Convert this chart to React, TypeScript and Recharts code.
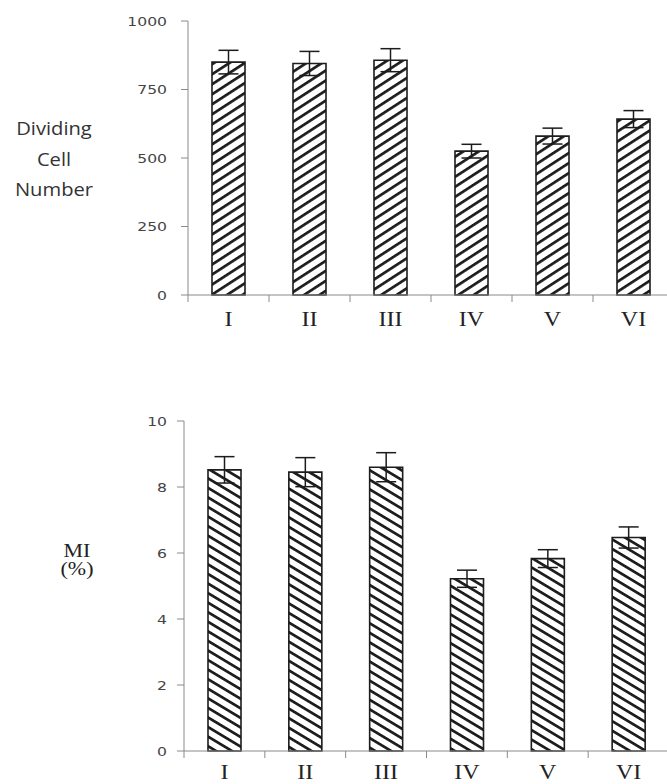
import React from 'react';
import { BarChart, Bar, XAxis, YAxis, ErrorBar } from 'recharts';

const groups = ['I', 'II', 'III', 'IV', 'V', 'VI'];
const cellNumber = [850, 845, 857, 525, 580, 642];
const cellNumberErr = [43, 44, 42, 25, 29, 31];
const miPercent = [8.52, 8.45, 8.6, 5.22, 5.83, 6.47];
const miErr = [0.4, 0.44, 0.44, 0.26, 0.27, 0.32];
const cellTicks = [0, 250, 500, 750, 1000];
const miTicks = [0, 2, 4, 6, 8, 10];

const topData = groups.map((g, i) => ({ group: g, value: cellNumber[i], err: cellNumberErr[i] }));
const bottomData = groups.map((g, i) => ({ group: g, value: miPercent[i], err: miErr[i] }));

const AXIS_GRAY = '#8a8a8a';
const INK = '#1c1c1c';

const CHART_W = 680;
const TOP_LEFT = 188;
const TOP_RIGHT_MARGIN = 6;
const BOT_LEFT = 184;
const BOT_RIGHT_MARGIN = 11;

function makeXTick(band: number, labelOffset: number) {
  return (props: any) => {
    const { x, y, payload } = props;
    const half = band / 2;
    return (
      <g>
        <line x1={x - half} x2={x - half} y1={y} y2={y + 7} stroke={AXIS_GRAY} strokeWidth={1} />
        <text
          transform={`translate(${x},${y + labelOffset}) scale(1.2,1)`}
          textAnchor="middle"
          dy="0.35em"
          fontFamily="'Liberation Serif', 'Times New Roman', serif"
          fontSize={20}
          fill="#222"
        >
          {payload.value}
        </text>
      </g>
    );
  };
}

const YTick = (props: any) => {
  const { x, y, payload } = props;
  return (
    <text
      transform={`translate(${x},${y}) scale(1.2,1)`}
      textAnchor="end"
      dy="0.36em"
      fontFamily="'DejaVu Sans', sans-serif"
      fontSize={13}
      fill="#444"
    >
      {payload.value}
    </text>
  );
};

const topBand = (CHART_W - TOP_RIGHT_MARGIN - TOP_LEFT) / groups.length;
const botBand = (CHART_W - BOT_RIGHT_MARGIN - BOT_LEFT) / groups.length;
const TopXTick = makeXTick(topBand, 24);
const BotXTick = makeXTick(botBand, 21);

export default function App() {
  return (
    <div
      style={{
        position: 'absolute',
        left: 0,
        top: 0,
        width: 667,
        height: 784,
        overflow: 'hidden',
        background: '#fff',
      }}
    >
      <svg width={0} height={0} style={{ position: 'absolute' }}>
        <defs>
          <pattern id="hatchUp" patternUnits="userSpaceOnUse" width="10" height="8.4" patternTransform="rotate(-33)">
            <rect x="0" y="0" width="10" height="2.7" fill={INK} />
          </pattern>
          <pattern id="hatchDown" patternUnits="userSpaceOnUse" width="10" height="8.2" patternTransform="rotate(31)">
            <rect x="0" y="0" width="10" height="2.7" fill={INK} />
          </pattern>
        </defs>
      </svg>

      <div style={{ position: 'absolute', left: 0, top: 0 }}>
        <BarChart
          width={CHART_W}
          height={340}
          data={topData}
          margin={{ top: 21, right: TOP_RIGHT_MARGIN, bottom: 15, left: 0 }}
        >
          <XAxis
            dataKey="group"
            height={30}
            interval={0}
            axisLine={{ stroke: AXIS_GRAY, strokeWidth: 1 }}
            tickLine={false}
            tickSize={0}
            tickMargin={0}
            tick={TopXTick}
          />
          <YAxis
            width={TOP_LEFT}
            domain={[0, 1000]}
            ticks={cellTicks}
            interval={0}
            tickSize={7}
            tickMargin={14}
            axisLine={{ stroke: AXIS_GRAY, strokeWidth: 1 }}
            tickLine={{ stroke: AXIS_GRAY, strokeWidth: 1 }}
            tick={YTick}
          />
          <Bar dataKey="value" fill="url(#hatchUp)" stroke={INK} strokeWidth={1.6} barSize={33} isAnimationActive={false}>
            <ErrorBar dataKey="err" width={10} stroke={INK} strokeWidth={1.5} direction="y" isAnimationActive={false} />
          </Bar>
        </BarChart>
      </div>

      <div style={{ position: 'absolute', left: 0, top: 390 }}>
        <BarChart
          width={CHART_W}
          height={394}
          data={bottomData}
          margin={{ top: 31, right: BOT_RIGHT_MARGIN, bottom: 3, left: 0 }}
        >
          <XAxis
            dataKey="group"
            height={30}
            interval={0}
            axisLine={{ stroke: AXIS_GRAY, strokeWidth: 1 }}
            tickLine={false}
            tickSize={0}
            tickMargin={0}
            tick={BotXTick}
          />
          <YAxis
            width={BOT_LEFT}
            domain={[0, 10]}
            ticks={miTicks}
            interval={0}
            tickSize={7}
            tickMargin={10}
            axisLine={{ stroke: AXIS_GRAY, strokeWidth: 1 }}
            tickLine={{ stroke: AXIS_GRAY, strokeWidth: 1 }}
            tick={YTick}
          />
          <Bar dataKey="value" fill="url(#hatchDown)" stroke={INK} strokeWidth={1.6} barSize={33} isAnimationActive={false}>
            <ErrorBar dataKey="err" width={10} stroke={INK} strokeWidth={1.5} direction="y" isAnimationActive={false} />
          </Bar>
        </BarChart>
      </div>

      <div
        style={{
          position: 'absolute',
          left: 0,
          top: 113,
          width: 108,
          textAlign: 'center',
          fontFamily: "'Open Sans', 'Liberation Sans', sans-serif",
          fontSize: 18,
          lineHeight: '30.5px',
          color: '#333',
          transform: 'scaleX(1.12)',
        }}
      >
        <div>Dividing</div>
        <div>Cell</div>
        <div>Number</div>
      </div>

      <div
        style={{
          position: 'absolute',
          left: 27,
          top: 542,
          width: 100,
          textAlign: 'center',
          fontFamily: "'Liberation Serif', 'Times New Roman', serif",
          fontSize: 18,
          lineHeight: '18px',
          color: '#222',
          transform: 'scaleX(1.22)',
        }}
      >
        <div>MI</div>
        <div>(%)</div>
      </div>
    </div>
  );
}
